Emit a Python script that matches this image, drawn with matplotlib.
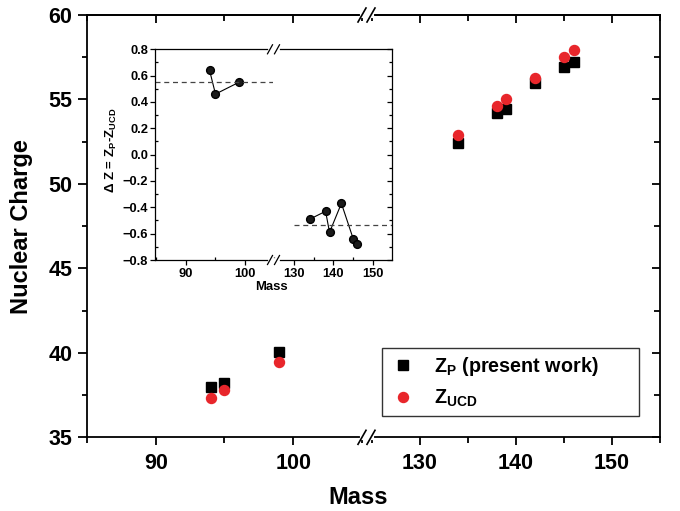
import numpy as np
import matplotlib
matplotlib.use("Agg")
import matplotlib.pyplot as plt
from matplotlib.lines import Line2D
from matplotlib.ticker import MultipleLocator

plt.rcParams['font.family'] = ['Liberation Sans', 'DejaVu Sans']
plt.rcParams['font.weight'] = 'bold'
plt.rcParams['mathtext.fontset'] = 'custom'
plt.rcParams['mathtext.rm'] = 'Liberation Sans:bold'
plt.rcParams['mathtext.it'] = 'Liberation Sans:bold'
plt.rcParams['mathtext.bf'] = 'Liberation Sans:bold'

# data
mass = np.array([94, 95, 99, 134, 138, 139, 142, 145, 146])
z_p = np.array([37.98, 38.22, 40.04, 52.40, 54.21, 54.43, 55.95, 56.90, 57.23])
z_ucd = np.array([37.35, 37.78, 39.44, 52.87, 54.61, 55.02, 56.27, 57.53, 57.93])
delta_z = np.array([0.64, 0.46, 0.55, -0.49, -0.43, -0.59, -0.37, -0.64, -0.68])

W, H = 680, 511
fig = plt.figure(figsize=(6.8, 5.11), dpi=100)


def fx(px):
    return px / W


def fy(py):
    return (H - py) / H


def add_break(x0, x1, ys, dx, dy, lw):
    # gap in the spine plus the two slashes
    for y in ys:
        fig.add_artist(Line2D([fx(x0), fx(x1)], [fy(y), fy(y)], color='white', lw=lw + 2.5))
        for xc in (x0, x1):
            fig.add_artist(Line2D([fx(xc - dx), fx(xc + dx)], [fy(y + dy), fy(y - dy)],
                                  color='black', lw=lw))


# ---- main broken axes ----
axL = fig.add_axes([fx(87), fy(437.3), fx(366) - fx(87), fy(15) - fy(437.3)])
axR = fig.add_axes([fx(366), fy(437.3), fx(660) - fx(366), fy(15) - fy(437.3)])
axL.set_xlim(85.0, 105.3)
axR.set_xlim(124.4, 155)
for ax in (axL, axR):
    ax.set_ylim(35, 60)
    for s in ax.spines.values():
        s.set_linewidth(1.3)
    ax.plot(mass, z_p, 's', color='black', ms=6.5, ls='none', label=r'Z$_\mathrm{P}$ (present work)')
    ax.plot(mass, z_ucd, 'o', color='#e8262b', ms=7.2, ls='none', label=r'Z$_\mathrm{UCD}$')
    ax.xaxis.set_major_locator(MultipleLocator(10))
    ax.xaxis.set_minor_locator(MultipleLocator(5))
    ax.yaxis.set_major_locator(MultipleLocator(5))
    ax.yaxis.set_minor_locator(MultipleLocator(2.5))
    ax.tick_params(axis='x', which='major', direction='out', length=5.5, width=1.3,
                   labelsize=15.5, pad=5.5, top=False)
    ax.tick_params(axis='x', which='minor', direction='out', length=4, width=1.3, top=False)
    sec = ax.secondary_xaxis('top')
    sec.xaxis.set_major_locator(MultipleLocator(10))
    sec.xaxis.set_minor_locator(MultipleLocator(5))
    sec.tick_params(which='major', direction='in', length=6, width=1.3, labeltop=False)
    sec.tick_params(which='minor', direction='in', length=4, width=1.3)
    sec.spines['top'].set_linewidth(1.3)

axL.spines['right'].set_visible(False)
axR.spines['left'].set_visible(False)
axL.tick_params(axis='y', which='major', direction='out', length=6.5, width=1.3,
                labelsize=15.5, pad=4, right=False)
axL.tick_params(axis='y', which='minor', direction='out', length=3.6, width=1.3, right=False)
axR.tick_params(axis='y', which='both', direction='in', left=False, right=True,
                labelleft=False, width=1.3)
axR.tick_params(axis='y', which='major', length=6)
axR.tick_params(axis='y', which='minor', length=4)
axR.secondary_xaxis('top').set_visible(False)

axL.set_ylabel('Nuclear Charge', fontsize=17, fontweight='bold')
axL.yaxis.set_label_coords((33 - 87) / 279, 0.5)
fig.text(fx(358), fy(497), 'Mass', fontsize=17, fontweight='bold', ha='center', va='center')

handles, labels = axL.get_legend_handles_labels()
leg = axR.legend(handles, labels, loc='upper left',
                 bbox_to_anchor=(fx(382), fy(416), fx(639) - fx(382), fy(348) - fy(416)),
                 bbox_transform=fig.transFigure, mode='expand', fontsize=14.2, frameon=True,
                 fancybox=False, borderpad=0.35, labelspacing=0.5, handletextpad=0.9,
                 borderaxespad=0, handlelength=1.4)
leg.get_frame().set_edgecolor('black')
leg.get_frame().set_linewidth(1.0)

add_break(362, 371, [15, 437.3], 4, 7, 1.2)

# ---- inset ----
iL = fig.add_axes([fx(155), fy(260), fx(273) - fx(155), fy(49.3) - fy(260)])
iR = fig.add_axes([fx(273), fy(260), fx(392) - fx(273), fy(49.3) - fy(260)])
iL.set_xlim(84.75, 104.75)
iR.set_xlim(124.7, 154.8)
left = mass < 110
right = ~left
iL.plot(mass[left], delta_z[left], '-o', color='black', lw=0.8, ms=5.6,
        mfc='#1a1a1a', mec='black')
iR.plot(mass[right], delta_z[right], '-o', color='black', lw=0.8, ms=5.6,
        mfc='#1a1a1a', mec='black')
iL.axhline(np.mean(delta_z[left]), color='#444444', ls=(0, (4, 3)), lw=0.9)
iR.hlines(np.mean(delta_z[right]), 130, 154.8, color='#444444', ls=(0, (4, 3)), lw=0.9)
for ax in (iL, iR):
    ax.set_ylim(-0.8, 0.8)
    for s in ax.spines.values():
        s.set_linewidth(0.9)
    ax.xaxis.set_major_locator(MultipleLocator(10))
    ax.xaxis.set_minor_locator(MultipleLocator(5))
    ax.yaxis.set_major_locator(MultipleLocator(0.2))
    ax.yaxis.set_minor_locator(MultipleLocator(0.1))
    ax.tick_params(axis='x', which='major', direction='out', length=3.5, width=0.9,
                   labelsize=9.3, pad=2, top=False)
    ax.tick_params(axis='x', which='minor', direction='in', length=2, width=0.9, top=False)
iL.spines['right'].set_visible(False)
iR.spines['left'].set_visible(False)
iL.tick_params(axis='y', which='major', direction='out', length=3.5, width=0.9,
               labelsize=9.3, pad=1.5, right=False)
iL.tick_params(axis='y', which='minor', direction='in', length=2, width=0.9, right=False)
iR.tick_params(axis='y', which='both', direction='in', left=False, right=True,
               labelleft=False, width=0.9)
iR.tick_params(axis='y', which='major', length=3.5)
iR.tick_params(axis='y', which='minor', length=2)

iL.set_ylabel(r'$\Delta$ Z = Z$_\mathrm{P}$-Z$_\mathrm{UCD}$', fontsize=9.5, fontweight='bold')
iL.yaxis.set_label_coords((119 - 155) / 118, 0.52)
fig.text(fx(271), fy(287), 'Mass', fontsize=9.4, fontweight='bold', ha='center', va='center')

add_break(270, 277, [49.3, 260], 2.5, 4.5, 0.9)

fig.savefig('out.png', dpi=100)
